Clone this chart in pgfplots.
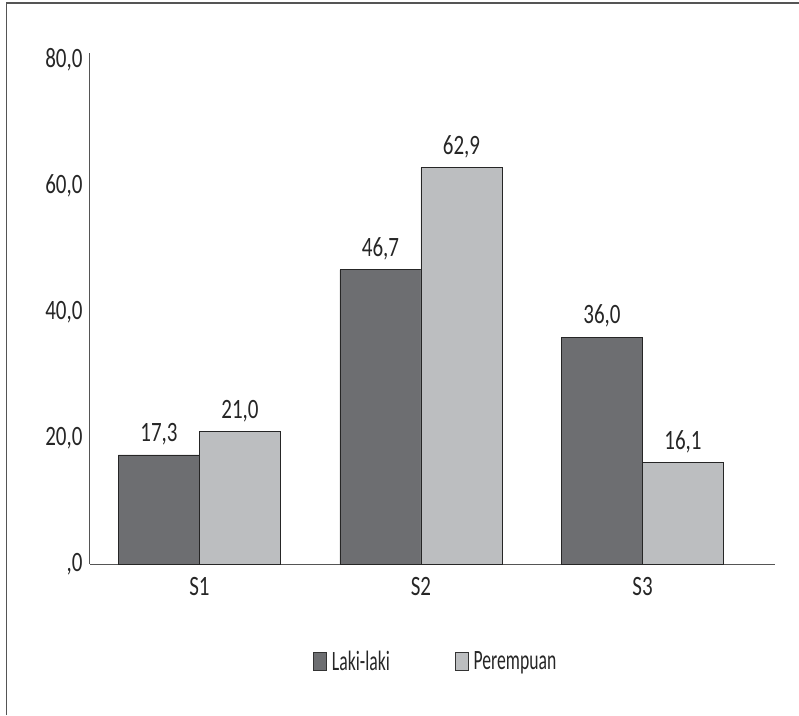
\documentclass[border=0pt]{standalone}
\usepackage{pgfplots}
\pgfplotsset{compat=1.18}
\usepackage{fontspec}
\setmainfont[FakeStretch=0.75]{Carlito}
\newfontfamily\narrowfont[FakeStretch=0.63]{Carlito}
\definecolor{barDark}{HTML}{6D6E71}
\definecolor{barLight}{HTML}{BCBEC0}
\definecolor{axisGrey}{HTML}{555555}
\newcommand{\chartfont}{\fontsize{28}{28}\selectfont}

\begin{document}
\begin{tikzpicture}[x=1pt,y=1pt]
% page: the axis corner sits at (0,0)
\path[use as bounding box] (-90,-151) rectangle (709,564);
% outer frame (top and left edges)
\draw[axisGrey, line width=1.5pt] (-83.5,-151) -- (-83.5,561) -- (709,561);
\begin{axis}[
  at={(0,0)}, anchor=south west,
  scale only axis, width=685pt, height=511pt,
  xmin=-0.494, xmax=2.598, ymin=0, ymax=81.1,
  axis lines=left,
  axis line style={-, axisGrey, line width=1pt},
  major tick length=0pt,
  xtick={0,1,2}, xticklabels={S1,S2,S3},
  ytick={0,20,40,60,80},
  yticklabels={{,0},{20,0},{40,0},{60,0},{80,0}},
  tick label style={font=\chartfont, text=black!85},
  yticklabel style={xshift=-4pt},
  xticklabel style={yshift=-10pt},
  ybar=0pt, bar width=81pt,
  nodes near coords,
  nodes near coords style={font=\chartfont, text=black!85,
    /pgf/number format/fixed, /pgf/number format/fixed zerofill,
    /pgf/number format/precision=1, /pgf/number format/use comma,
    /pgf/number format/assume math mode=true, yshift=6pt},
  legend image code/.code={\draw[#1, draw=black!80, line width=0.8pt] (0pt,-9pt) rectangle (13pt,9pt);},
  legend style={at={(0.3255,-0.19)}, anchor=west, draw=none, fill=none,
    legend columns=2, inner sep=0pt,
    font=\chartfont\narrowfont, text=black!85,
    nodes={inner xsep=5pt},
    /tikz/every even column/.append style={column sep=60pt}},
  legend cell align=left,
]
\addplot[fill=barDark, draw=black!85, line width=0.8pt] coordinates {(0,17.3) (1,46.7) (2,36.0)};
\addplot[fill=barLight, draw=black!85, line width=0.8pt] coordinates {(0,21.0) (1,62.9) (2,16.1)};
\legend{Laki-laki, Perempuan}
\end{axis}
\end{tikzpicture}
\end{document}
